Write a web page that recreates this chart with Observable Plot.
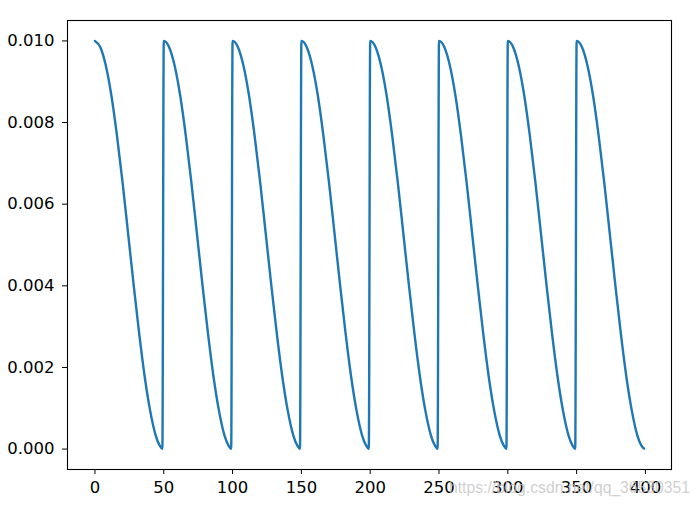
<!DOCTYPE html>
<html>
<head>
<meta charset="utf-8">
<script src="https://cdn.jsdelivr.net/npm/d3@7"></script>
<script src="https://cdn.jsdelivr.net/npm/@observablehq/plot@0.6"></script>
<style>
  html, body { margin: 0; padding: 0; background: #fff; }
  #wrap { position: relative; width: 699px; height: 510px; overflow: hidden; }
  #wm { position: absolute; left: 449px; top: 478px; font-family: "Liberation Sans", Arial, sans-serif; font-size: 17px; line-height: 20px; color: rgba(195,195,195,0.8); white-space: nowrap; transform-origin: 0 0; }
</style>
</head>
<body>
<div id="wrap"></div>
<script>
// Restart epochs of the schedule (read from the vertical jumps)
const cycleStarts = [0, 50, 100, 150, 200, 250, 300, 350];
// Epoch offsets within a cycle and learning rate read at each offset
const cycleOffsets = [0, 4, 8, 12, 16, 20, 24, 28, 32, 36, 40, 44, 47, 49];
const cycleLr = [0.0100, 0.00984, 0.00938, 0.00865, 0.00768, 0.00655, 0.00531, 0.00406, 0.00287, 0.00181, 0.00096, 0.00035, 0.00009, 0.00001];
const xTicks = [0, 50, 100, 150, 200, 250, 300, 350, 400];
const yTicks = [0.000, 0.002, 0.004, 0.006, 0.008, 0.010];
const watermark = "https://blog.csdn.net/qq_36530351";

const data = [];
for (const s of cycleStarts) {
  cycleOffsets.forEach((o, i) => data.push({epoch: s + o, lr: cycleLr[i]}));
}

const chart = Plot.plot({
  width: 699,
  height: 510,
  marginLeft: 67,
  marginRight: 28,
  marginTop: 20,
  marginBottom: 41,
  style: {fontFamily: "DejaVu Sans", fontSize: "16.5px", color: "#000", background: "#fff"},
  x: {domain: [-19.95, 418.95]},
  y: {domain: [-0.0005, 0.0105]},
  marks: [
    Plot.line(data, {x: "epoch", y: "lr", stroke: "#1f77b4", strokeWidth: 2.4, curve: "monotone-x"}),
    Plot.frame({stroke: "#000", strokeWidth: 1.1}),
    Plot.axisX({ticks: xTicks, tickSize: 5, tickPadding: 7, label: null, fontSize: 16.5, tickFormat: d => String(d), stroke: "#000", color: "#000"}),
    Plot.axisY({ticks: yTicks, tickSize: 5, tickPadding: 8, label: null, fontSize: 16.5, tickFormat: d3.format(".3f"), stroke: "#000", color: "#000"})
  ]
});
const wrap = document.getElementById("wrap");
wrap.appendChild(chart);
const wm = document.createElement("div");
wm.id = "wm";
wm.textContent = watermark;
wrap.appendChild(wm);
const w = wm.getBoundingClientRect().width;
if (w > 0) wm.style.transform = `scaleX(${241 / w})`;
</script>
</body>
</html>
